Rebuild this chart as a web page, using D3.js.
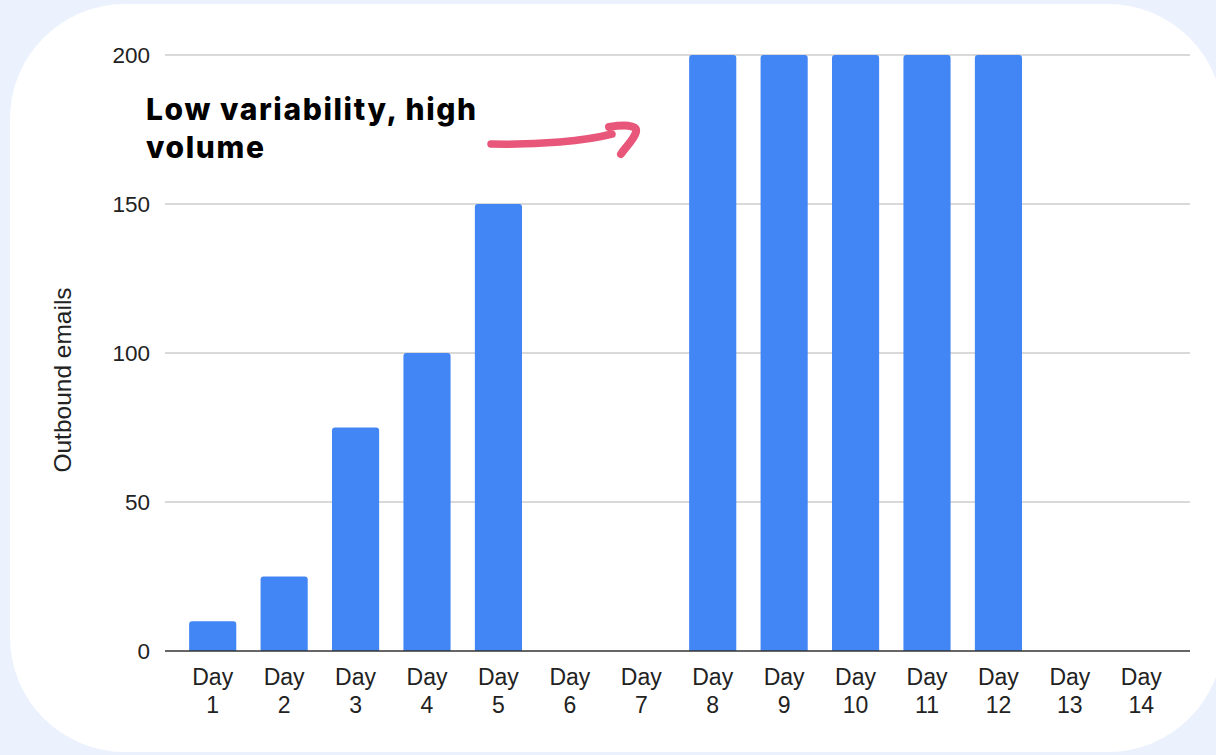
<!DOCTYPE html>
<html><head><meta charset="utf-8">
<script src="https://cdn.jsdelivr.net/npm/d3@7"></script>
<style>html,body{margin:0;padding:0;background:#ecf2fd;}svg{display:block;}</style>
</head><body>
<svg id="c" width="1216" height="755"></svg>
<script>
const categories = ["Day 1","Day 2","Day 3","Day 4","Day 5","Day 6","Day 7","Day 8","Day 9","Day 10","Day 11","Day 12","Day 13","Day 14"];
const values = [10,25,75,100,150,0,0,200,200,200,200,200,0,0];
const yTicks = [0,50,100,150,200];
const yTitle = "Outbound emails";
const annotationLines = ["Low variability, high","volume"];

const svg = d3.select("#c");
svg.append("rect").attr("x",0).attr("y",0).attr("width",1216).attr("height",755).attr("fill","#ecf2fd");
svg.append("rect").attr("x",10).attr("y",4).attr("width",1213).attr("height",748).attr("rx",115).attr("ry",115).attr("fill","#ffffff");

const y = d3.scaleLinear().domain([0,200]).range([651,55]);
const x = d3.scaleBand().domain(categories).range([177,1177]).paddingInner(0.34).paddingOuter(0.17);
const FONT = "'Liberation Sans', Arial, sans-serif";

// gridlines
svg.append("g").selectAll("line").data(yTicks.filter(d=>d>0)).join("line")
  .attr("x1",165).attr("x2",1190).attr("y1",d=>y(d)).attr("y2",d=>y(d))
  .attr("stroke","#cccccc").attr("stroke-width",1.3);

// y labels
const yAxis = d3.axisLeft(y).tickValues(yTicks).tickSize(0).tickPadding(0);
const gy = svg.append("g").attr("transform","translate(150,0)").call(yAxis);
gy.select(".domain").remove();
gy.attr("font-size",null).attr("font-family",null);
gy.selectAll("text").attr("font-family",FONT).attr("font-size",22.5).attr("fill","#222");

// bars
svg.append("g").selectAll("path").data(values.map((v,i)=>({c:categories[i],v}))).join("path")
  .filter(d=>d.v>0)
  .attr("d",d=>{
    const x0=x(d.c), w=x.bandwidth(), y0=y(d.v), yb=y(0), r=3;
    return `M${x0},${yb}V${y0+r}Q${x0},${y0} ${x0+r},${y0}H${x0+w-r}Q${x0+w},${y0} ${x0+w},${y0+r}V${yb}Z`;
  })
  .attr("fill","#4285f4");

// baseline
svg.append("line").attr("x1",165).attr("x2",1190).attr("y1",y(0)).attr("y2",y(0)).attr("stroke","#333").attr("stroke-width",1.6);

// x labels
const gx = svg.append("g");
categories.forEach(c=>{
  const parts = c.split(" ");
  const cx = x(c)+x.bandwidth()/2;
  const t = gx.append("text").attr("x",cx).attr("text-anchor","middle")
    .attr("font-family",FONT).attr("font-size",23).attr("fill","#222");
  t.append("tspan").attr("x",cx).attr("y",685).text(parts[0]);
  t.append("tspan").attr("x",cx).attr("y",713).text(parts[1]);
});

// y title
svg.append("text").attr("transform","translate(71,380) rotate(-90)").attr("text-anchor","middle")
  .attr("font-family",FONT).attr("font-size",24.5).attr("fill","#222").text(yTitle);

// annotation
annotationLines.forEach((l,i)=>{
  svg.append("text").attr("x",146).attr("y",120+i*38)
    .attr("font-family","Inter, 'Open Sans', sans-serif").attr("font-weight",800).attr("font-size",30)
    .attr("letter-spacing",1.6).attr("fill","#000").text(l);
});

// arrow
svg.append("path").attr("d","M491,144 C540,145 585,141 612,134")
  .attr("fill","none").attr("stroke","#e8577a").attr("stroke-width",7.5).attr("stroke-linecap","round");
svg.append("path").attr("d","M609,127 C622,125 638,124 636,132 C634,140 626,146 621,154")
  .attr("fill","none").attr("stroke","#e8577a").attr("stroke-width",8).attr("stroke-linecap","round").attr("stroke-linejoin","round");
</script>
</body></html>
